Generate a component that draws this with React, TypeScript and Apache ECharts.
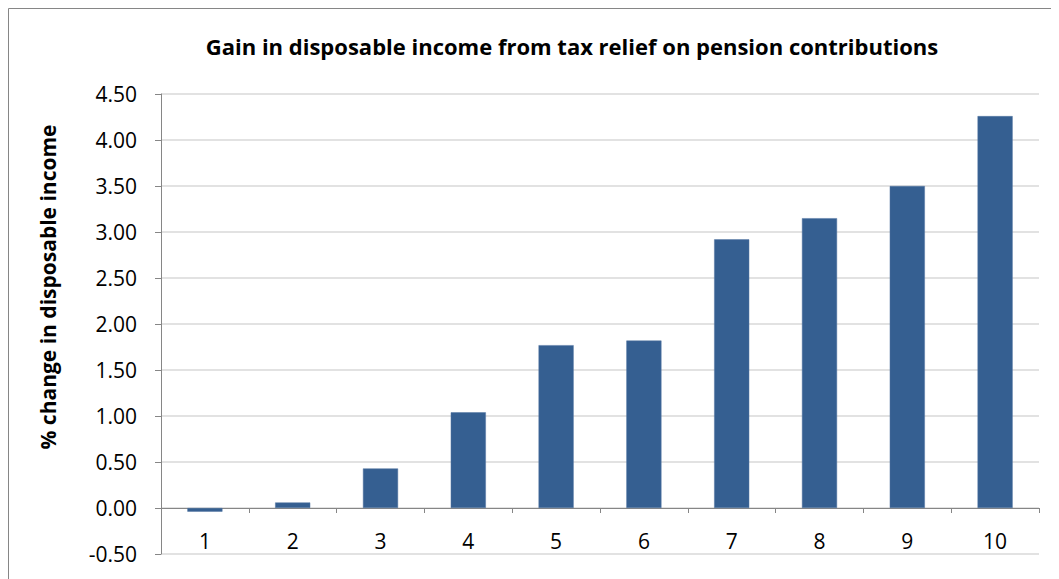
import React, { useEffect, useRef } from "react";
import * as echarts from "echarts";

const titleText = "Gain in disposable income from tax relief on pension contributions";
const yAxisName = "% change in disposable income";
const categories = ["1", "2", "3", "4", "5", "6", "7", "8", "9", "10"];
const values = [-0.04, 0.06, 0.43, 1.04, 1.77, 1.82, 2.92, 3.15, 3.5, 4.26];

const FONT = "'Open Sans', 'Noto Sans', sans-serif";

export default function App() {
  const ref = useRef<HTMLDivElement>(null);
  useEffect(() => {
    if (!ref.current) return;
    const chart = echarts.init(ref.current, null, { renderer: "svg" });
    chart.setOption({
      animation: false,
      backgroundColor: "#ffffff",
      title: {
        text: titleText,
        left: 559,
        top: 22,
        textAlign: "center",
        textStyle: { fontFamily: FONT, fontSize: 22, fontWeight: "bold", color: "#000" },
      },
      graphic: [
        {
          type: "rect",
          shape: { x: 0.5, y: 0.5, width: 1100, height: 600 },
          style: { fill: "none", stroke: "#868686", lineWidth: 1 },
          silent: true,
        },
        {
          type: "text",
          x: 40,
          y: 279,
          rotation: Math.PI / 2,
          style: {
            text: yAxisName,
            fontFamily: FONT,
            fontSize: 21,
            fontWeight: "bold",
            fill: "#000",
            align: "center",
            verticalAlign: "middle",
          },
          silent: true,
        },
      ],
      grid: {
        left: 153,
        right: 20,
        top: 86,
        bottom: 25,
        containLabel: false,
        outerBoundsMode: "none",
      },
      xAxis: [
        {
          type: "category",
          data: categories,
          axisLine: { onZero: true, lineStyle: { color: "#868686", width: 1 } },
          axisTick: { show: true, alignWithLabel: false, length: 5, lineStyle: { color: "#868686" } },
          axisLabel: { show: false },
          splitLine: { show: false },
        },
        {
          type: "category",
          data: categories,
          position: "bottom",
          axisLine: { show: false, onZero: false },
          axisTick: { show: false },
          axisLabel: { inside: true, margin: 3, fontFamily: FONT, fontSize: 21, color: "#000" },
          splitLine: { show: false },
        },
      ],
      yAxis: {
        type: "value",
        min: -0.5,
        max: 4.5,
        interval: 0.5,
        axisLine: { show: true, lineStyle: { color: "#868686" } },
        axisTick: { show: true, length: 6, lineStyle: { color: "#868686" } },
        axisLabel: {
          margin: 24,
          fontFamily: FONT,
          fontSize: 21,
          color: "#000",
          formatter: (v: number) => v.toFixed(2),
        },
        splitLine: { show: true, lineStyle: { color: "#D9D9D9", width: 1.5 } },
      },
      series: [
        {
          type: "bar",
          data: values,
          xAxisIndex: 0,
          barWidth: "40%",
          itemStyle: { color: "#355F91", borderColor: "#5577A3", borderWidth: 0.5 },
        },
      ],
    });
    return () => chart.dispose();
  }, []);
  return <div ref={ref} style={{ width: 1051, height: 571 }} />;
}
